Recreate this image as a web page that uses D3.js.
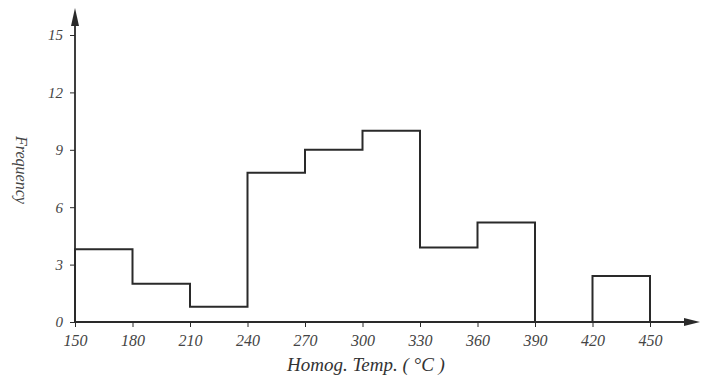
<!DOCTYPE html>
<html><head><meta charset="utf-8">
<script src="https://cdn.jsdelivr.net/npm/d3@7"></script>
<style>body{margin:0;background:#fff}svg{display:block}</style>
</head><body>
<svg id="c" width="702" height="384"></svg>
<script>
const binStarts = [150,180,210,240,270,300,330,360,390,420];
const binWidth = 30;
const frequency = [3.8,2.0,0.8,7.8,9.0,10.0,3.9,5.2,0,2.4];
const xTicks = [150,180,210,240,270,300,330,360,390,420,450];
const yTicks = [0,3,6,9,12,15];

const svg = d3.select("#c");
const x = d3.scaleLinear().domain([150,450]).range([75,650]);
const y = d3.scaleLinear().domain([0,15]).range([322,35]);
const ink = "#2a2a2a";
const font = "Liberation Serif, DejaVu Serif, serif";

// axes
const yAxis = d3.axisLeft(y).tickValues(yTicks).tickSize(5).tickPadding(7);
const gy = svg.append("g").attr("transform",`translate(${x(150)},0)`).call(yAxis);
gy.select(".domain").remove();
gy.selectAll("line").attr("stroke",ink);
gy.selectAll("text").attr("font-family",font).attr("font-style","italic").attr("font-size",15).attr("fill","#444");

const xAxis = d3.axisBottom(x).tickValues(xTicks).tickSize(5).tickPadding(8);
const gx = svg.append("g").attr("transform",`translate(0,${y(0)})`).call(xAxis);
gx.select(".domain").remove();
gx.selectAll("line").attr("stroke",ink);
gx.selectAll("text").attr("font-family",font).attr("font-style","italic").attr("font-size",16).attr("fill","#444");

// axis lines with arrows
svg.append("line").attr("x1",x(150)).attr("x2",x(150)).attr("y1",y(0)).attr("y2",20)
  .attr("stroke",ink).attr("stroke-width",1.8);
svg.append("path").attr("d",`M${x(150)-4},26 L${x(150)},8 L${x(150)+4},26 Z`).attr("fill",ink);
svg.append("line").attr("x1",x(150)).attr("x2",686).attr("y1",y(0)).attr("y2",y(0))
  .attr("stroke",ink).attr("stroke-width",1.8);
svg.append("path").attr("d",`M684,${y(0)-4} L700,${y(0)} L684,${y(0)+4} Z`).attr("fill",ink);

// histogram outline
const pts = [];
binStarts.forEach((s,i)=>{
  const prev = i>0 ? frequency[i-1] : 0;
  pts.push([s,prev]); pts.push([s,frequency[i]]);
});
pts.push([binStarts[binStarts.length-1]+binWidth, frequency[frequency.length-1]]);
pts.push([binStarts[binStarts.length-1]+binWidth, 0]);
const line = d3.line().x(d=>x(d[0])).y(d=>y(d[1]));
const segs=[[]];
for(let i=0;i<pts.length;i++){
  const p=pts[i];
  segs[segs.length-1].push(p);
  if(i<pts.length-1 && p[1]===0 && pts[i+1][1]===0 && p[0]!==pts[i+1][0]) segs.push([]);
}
segs.filter(s=>s.length>1).forEach(s=>{
  svg.append("path").attr("d",line(s)).attr("fill","none").attr("stroke",ink).attr("stroke-width",2);
});

// titles
svg.append("text").attr("x",366).attr("y",371).attr("text-anchor","middle")
  .attr("font-family",font).attr("font-style","italic").attr("font-size",19).attr("fill","#333")
  .text("Homog. Temp. ( °C )");
svg.append("text").attr("transform","translate(16,170) rotate(90)").attr("text-anchor","middle")
  .attr("font-family",font).attr("font-style","italic").attr("font-size",16).attr("fill","#444")
  .text("Frequency");
</script>
</body></html>
